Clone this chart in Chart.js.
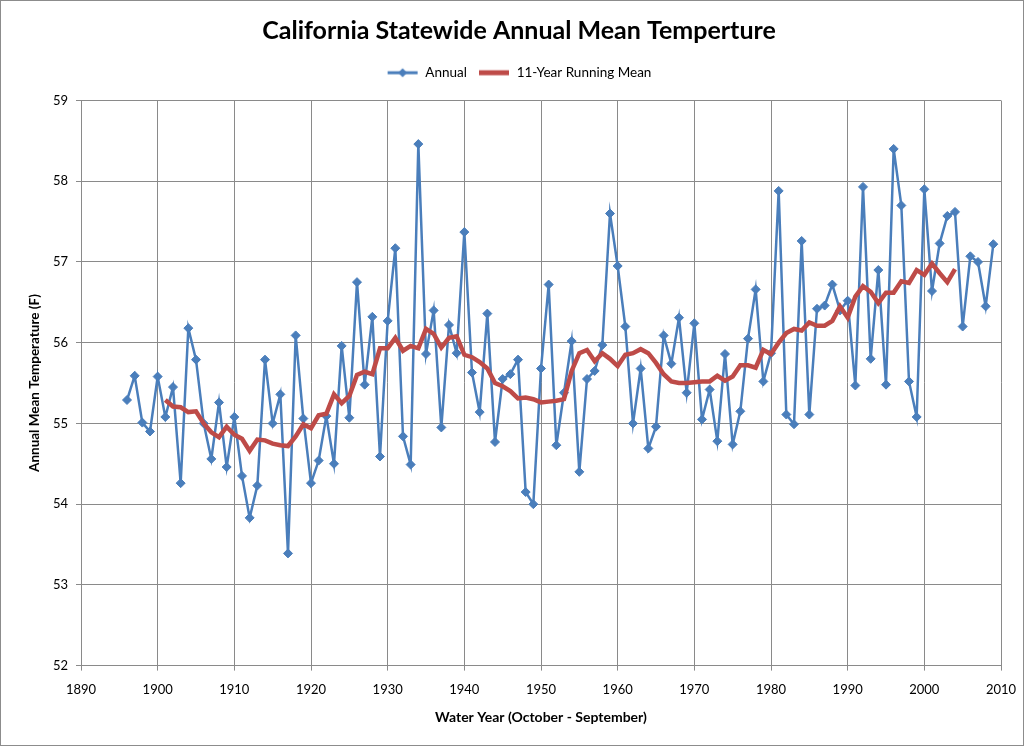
<!DOCTYPE html>
<html lang="en">
<head>
<meta charset="UTF-8">
<title>California Statewide Annual Mean Temperture</title>
<script src="https://cdn.jsdelivr.net/npm/chart.js"></script>
<style>
  body { margin: 0; background: #fff; }
  #wrap { position: relative; width: 1024px; height: 746px; }
</style>
</head>
<body>
<div id="wrap"><canvas id="tempChart" width="1024" height="746"></canvas></div>
<script>
  // annual values, water years 1896 - 2009
  var annualStart = 1896;
  var annualTemps = [
    55.29, 55.59, 55.01, 54.90, 55.58, 55.08, 55.45, 54.26, 56.18, 55.79,
    55.00, 54.56, 55.26, 54.46, 55.08, 54.35, 53.83, 54.23, 55.79, 55.00,
    55.36, 53.39, 56.09, 55.06, 54.26, 54.54, 55.09, 54.50, 55.96, 55.07,
    56.75, 55.48, 56.32, 54.59, 56.27, 57.17, 54.84, 54.49, 58.46, 55.86,
    56.40, 54.95, 56.22, 55.87, 57.37, 55.63, 55.14, 56.36, 54.77, 55.55,
    55.61, 55.79, 54.15, 54.00, 55.68, 56.72, 54.73, 55.38, 56.02, 54.40,
    55.55, 55.65, 55.97, 57.60, 56.95, 56.20, 55.00, 55.68, 54.69, 54.96,
    56.09, 55.74, 56.31, 55.38, 56.24, 55.05, 55.42, 54.78, 55.86, 54.74,
    55.15, 56.05, 56.66, 55.52, 55.87, 57.88, 55.11, 54.99, 57.26, 55.11,
    56.42, 56.46, 56.72, 56.40, 56.52, 55.47, 57.93, 55.80, 56.90, 55.48,
    58.40, 57.70, 55.52, 55.08, 57.90, 56.64, 57.23, 57.57, 57.62, 56.20,
    57.07, 57.00, 56.45, 57.22
  ];

  // 11-year running mean, 1901 - 2004
  var meanStart = 1901;
  var runningMean = [
    55.29, 55.21, 55.20, 55.14, 55.15, 55.00, 54.89, 54.83, 54.96, 54.86,
    54.81, 54.66, 54.80, 54.79, 54.75, 54.73, 54.72, 54.84, 54.99, 54.94,
    55.10, 55.12, 55.36, 55.25, 55.34, 55.60, 55.64, 55.61, 55.93, 55.93,
    56.06, 55.90, 55.96, 55.93, 56.17, 56.11, 55.94, 56.06, 56.08, 55.85,
    55.82, 55.76, 55.68, 55.50, 55.46, 55.40, 55.31, 55.32, 55.30, 55.26,
    55.27, 55.28, 55.30, 55.65, 55.87, 55.91, 55.77, 55.87, 55.80, 55.71,
    55.85, 55.87, 55.92, 55.87, 55.75, 55.61, 55.52, 55.50, 55.50, 55.51,
    55.52, 55.52, 55.59, 55.53, 55.58, 55.72, 55.72, 55.69, 55.91, 55.86,
    56.00, 56.12, 56.17, 56.15, 56.25, 56.21, 56.21, 56.27, 56.45, 56.31,
    56.57, 56.70, 56.63, 56.49, 56.62, 56.62, 56.76, 56.74, 56.90, 56.84,
    56.98, 56.86, 56.75, 56.91
  ];

  var seriesNames = ['Annual', '11-Year Running Mean'];
  var xMin = 1890, xMax = 2010, xStep = 10;
  var yMin = 52, yMax = 59, yStep = 1;

  var blue = '#4A7EBB';
  var red = '#BE4B48';
  var font = 'Lato, "Liberation Sans", sans-serif';

  function toPoints(start, values) {
    return values.map(function (v, i) { return { x: start + i, y: v }; });
  }

  // legend symbols: line with diamond, thick line
  function legendIcon(color, lw, diamond) {
    var c = document.createElement('canvas');
    c.width = 32; c.height = 12;
    var g = c.getContext('2d');
    g.strokeStyle = color; g.lineWidth = lw;
    g.beginPath(); g.moveTo(1, 6); g.lineTo(31, 6); g.stroke();
    if (diamond) {
      g.fillStyle = color;
      g.beginPath(); g.moveTo(16, 1.5); g.lineTo(20.5, 6); g.lineTo(16, 10.5); g.lineTo(11.5, 6); g.closePath(); g.fill();
    }
    return c;
  }
  var annualIcon = legendIcon(blue, 3, true);
  var meanIcon = legendIcon(red, 5, false);

  var framePlugin = {
    id: 'frame',
    beforeInit: function (chart) {
      var fit = chart.legend.fit;
      chart.legend.fit = function () { fit.bind(chart.legend)(); this.height += 11; };
    },
    afterDraw: function (chart) {
      var ctx = chart.ctx;
      ctx.save();
      ctx.strokeStyle = '#8c8c8c';
      ctx.lineWidth = 1;
      ctx.strokeRect(0.5, 0.5, chart.width - 1, chart.height - 1);
      ctx.restore();
    }
  };

  var ctx = document.getElementById('tempChart').getContext('2d');
  var chart = new Chart(ctx, {
    type: 'line',
    data: {
      datasets: [{
        label: seriesNames[0],
        data: toPoints(annualStart, annualTemps),
        borderColor: blue,
        backgroundColor: blue,
        borderWidth: 2.5,
        pointStyle: 'rectRot',
        pointRadius: 4.5,
        pointBorderWidth: 1,
        pointBackgroundColor: blue,
        pointBorderColor: blue,
        tension: 0,
        order: 2
      }, {
        label: seriesNames[1],
        data: toPoints(meanStart, runningMean),
        borderColor: red,
        backgroundColor: red,
        borderWidth: 4.5,
        pointRadius: 0,
        tension: 0,
        order: 1
      }]
    },
    options: {
      responsive: false,
      animation: false,
      layout: { padding: { left: 14, right: 0, top: 0, bottom: 17 } },
      plugins: {
        title: {
          display: true,
          text: 'California Statewide Annual Mean Temperture',
          color: '#000',
          font: { family: font, size: 25, weight: 'bold' },
          padding: { top: 16, bottom: 9 }
        },
        legend: {
          display: true,
          position: 'top',
          labels: {
            color: '#000',
            font: { family: font, size: 13.5 },
            usePointStyle: true,
            pointStyleWidth: 32,
            padding: 11,
            generateLabels: function (c) {
              var icons = [annualIcon, meanIcon];
              return c.data.datasets.map(function (ds, i) {
                return { text: ds.label, pointStyle: icons[i], datasetIndex: i, fillStyle: ds.borderColor, strokeStyle: ds.borderColor, lineWidth: 0, fontColor: '#000' };
              });
            }
          }
        },
        tooltip: { enabled: false }
      },
      scales: {
        x: {
          type: 'linear',
          min: xMin, max: xMax,
          ticks: { stepSize: xStep, color: '#000', font: { family: font, size: 13 }, padding: 11, maxRotation: 0,
            callback: function (v) { return String(v); } },
          grid: { color: '#8a8a8a', lineWidth: 1, tickLength: 5, drawTicks: true },
          border: { color: '#8a8a8a' },
          title: { display: true, text: 'Water Year (October - September)', color: '#000',
            font: { family: font, size: 14, weight: 'bold' }, padding: { top: 1, bottom: 3 } },
          afterFit: function (s) { s.paddingRight = 23; }
        },
        y: {
          min: yMin, max: yMax,
          ticks: { stepSize: yStep, color: '#000', font: { family: font, size: 13 }, padding: 8 },
          grid: { color: '#8a8a8a', lineWidth: 1, tickLength: 5 },
          border: { color: '#8a8a8a' },
          title: { display: true, text: 'Annual Mean Temperature (F)', color: '#000',
            font: { family: font, size: 13.5, weight: 'bold' }, padding: { top: 13, bottom: 0 } },
          afterFit: function (s) { s.width = 67; }
        }
      }
    },
    plugins: [framePlugin]
  });
</script>
</body>
</html>
